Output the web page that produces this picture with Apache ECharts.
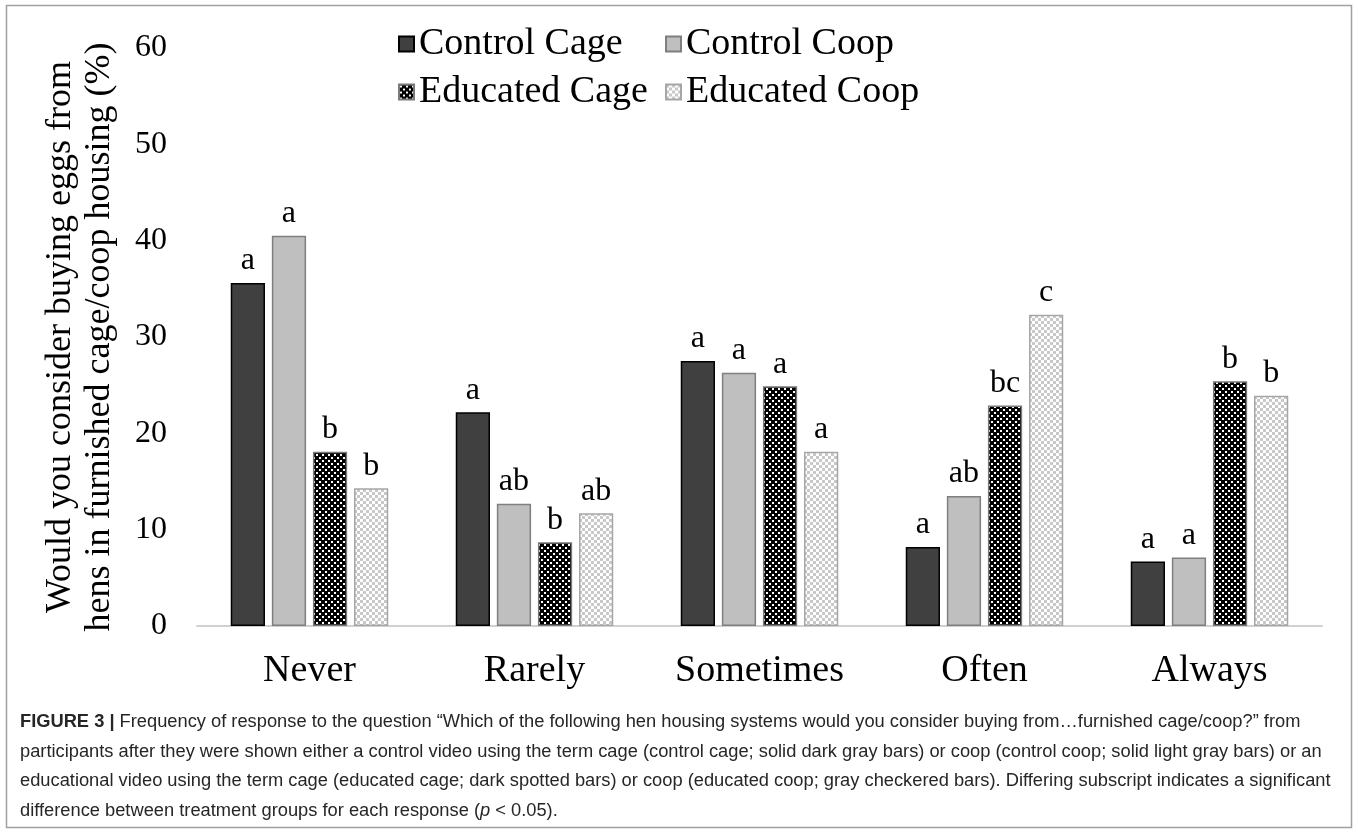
<!DOCTYPE html>
<html>
<head>
<meta charset="utf-8">
<script src="https://cdn.jsdelivr.net/npm/echarts@6/dist/echarts.min.js"></script>
<style>
  html, body { margin: 0; padding: 0; background: #fff; }
  #chart { width: 1358px; height: 833px; }
</style>
</head>
<body>
<div id="chart"></div>
<script>
// Response categories on the x axis
const categories = ['Never', 'Rarely', 'Sometimes', 'Often', 'Always'];

// Percent of participants per treatment group
const controlCage  = [35.6, 22.2, 27.5,  8.2,  6.7];
const controlCoop  = [40.5, 12.7, 26.3, 13.5,  7.1];
const educatedCage = [18.1,  8.7, 24.9, 22.9, 25.4];
const educatedCoop = [14.3, 11.7, 18.1, 32.3, 23.9];

// Significance letters shown above each bar
const lettersControlCage  = ['a', 'a', 'a', 'a', 'a'];
const lettersControlCoop  = ['a', 'ab', 'a', 'ab', 'a'];
const lettersEducatedCage = ['b', 'b', 'a', 'bc', 'b'];
const lettersEducatedCoop = ['b', 'ab', 'a', 'c', 'b'];

// Y axis range
const yMin = 0, yMax = 60, yStep = 10;

const SERIF = '"Liberation Serif", "Times New Roman", serif';
const SANS = '"Liberation Sans", Arial, sans-serif';

// Fill patterns: white dots on black, and a light gray checkerboard
function dotPattern() {
  const c = document.createElement('canvas');
  c.width = 6; c.height = 6;
  const g = c.getContext('2d');
  g.fillStyle = '#000';
  g.fillRect(0, 0, 6, 6);
  g.fillStyle = '#fff';
  g.fillRect(1, 1, 2, 2);
  g.fillRect(4, 4, 2, 2);
  return c;
}
function checkerPattern() {
  const c = document.createElement('canvas');
  c.width = 6; c.height = 6;
  const g = c.getContext('2d');
  g.fillStyle = '#ffffff';
  g.fillRect(0, 0, 6, 6);
  g.fillStyle = '#c8c8c8';
  g.fillRect(0, 0, 3, 3);
  g.fillRect(3, 3, 3, 3);
  return c;
}

const groups = [
  { name: 'Control Cage',  data: controlCage,  letters: lettersControlCage,
    color: '#404040', border: '#000000' },
  { name: 'Control Coop',  data: controlCoop,  letters: lettersControlCoop,
    color: '#bfbfbf', border: '#7f7f7f' },
  { name: 'Educated Cage', data: educatedCage, letters: lettersEducatedCage,
    color: { image: dotPattern(), repeat: 'repeat' }, border: '#7a7a7a' },
  { name: 'Educated Coop', data: educatedCoop, letters: lettersEducatedCoop,
    color: { image: checkerPattern(), repeat: 'repeat' }, border: '#a6a6a6' }
];

const series = groups.map(function (s) {
  return {
    name: s.name,
    type: 'bar',
    data: s.data,
    barGap: '20%',
    barCategoryGap: '30%',
    itemStyle: { color: s.color, borderColor: s.border, borderWidth: 1.5 },
    label: {
      show: true,
      position: 'top',
      distance: 6,
      fontFamily: SERIF,
      fontSize: 32,
      color: '#000',
      formatter: function (p) { return s.letters[p.dataIndex]; }
    },
    emphasis: { disabled: true }
  };
});

// One legend per entry so the two columns line up
const legendPos = [
  { left: 398, top: 25 },
  { left: 665, top: 25 },
  { left: 398, top: 73 },
  { left: 665, top: 73 }
];
const legends = groups.map(function (s, i) {
  return {
    data: [s.name],
    left: legendPos[i].left,
    top: legendPos[i].top,
    icon: 'rect',
    itemWidth: 15,
    itemHeight: 15,
    itemGap: 0,
    padding: 0,
    textStyle: { fontFamily: SERIF, fontSize: 38, color: '#000', padding: [0, 0, 0, 0] },
    selectedMode: false
  };
});

const captionLines = [
  '{b|FIGURE 3 |} Frequency of response to the question \u201cWhich of the following hen housing systems would you consider buying from\u2026furnished cage/coop?\u201d from',
  'participants after they were shown either a control video using the term cage (control cage; solid dark gray bars) or coop (control coop; solid light gray bars) or an',
  'educational video using the term cage (educated cage; dark spotted bars) or coop (educated coop; gray checkered bars). Differing subscript indicates a significant',
  'difference between treatment groups for each response ({i|p} < 0.05).'
];
const captionY = [723, 753, 782, 812];
const CAP = 18.3;

const graphics = [
  {
    type: 'rect',
    shape: { x: 6.5, y: 5.5, width: 1345, height: 822 },
    style: { fill: 'none', stroke: '#a0a0a0', lineWidth: 1.5 },
    silent: true
  }
].concat(captionLines.map(function (t, i) {
  return {
    type: 'text',
    left: 20,
    top: captionY[i] - 10,
    style: {
      text: t,
      fontFamily: SANS,
      fontSize: CAP,
      fill: '#262626',
      rich: {
        b: { fontFamily: SANS, fontSize: CAP, fontWeight: 'bold', fill: '#262626' },
        i: { fontFamily: SANS, fontSize: CAP, fontStyle: 'italic', fill: '#262626' }
      }
    },
    silent: true
  };
}));

const chart = echarts.init(document.getElementById('chart'), null, { renderer: 'canvas' });
chart.setOption({
  animation: false,
  backgroundColor: '#fff',
  grid: { left: 197, right: 36, top: 48, bottom: 207, containLabel: false },
  legend: legends,
  xAxis: {
    type: 'category',
    data: categories,
    axisLine: { show: true, lineStyle: { color: '#d0d0d0', width: 2 } },
    axisTick: { show: false },
    axisLabel: { fontFamily: SERIF, fontSize: 38, color: '#000', margin: 26 }
  },
  yAxis: {
    type: 'value',
    min: yMin,
    max: yMax,
    interval: yStep,
    name: 'Would you consider buying eggs from\nhens in furnished cage/coop housing (%)',
    nameLocation: 'middle',
    nameRotate: 90,
    nameGap: 78,
    nameTextStyle: { fontFamily: SERIF, fontSize: 36, color: '#000', lineHeight: 39 },
    axisLine: { show: false },
    axisTick: { show: false },
    splitLine: { show: false },
    axisLabel: { fontFamily: SERIF, fontSize: 32, color: '#000', margin: 30 }
  },
  series: series,
  graphic: graphics
});
</script>
</body>
</html>
